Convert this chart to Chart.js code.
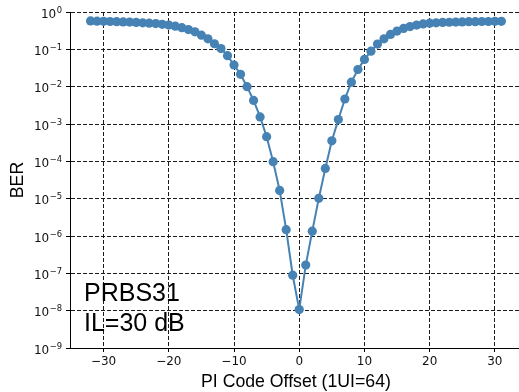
<!DOCTYPE html>
<html>
<head>
<meta charset="utf-8">
<script src="https://cdn.jsdelivr.net/npm/chart.js@4/dist/chart.umd.min.js"></script>
<style>
  html, body { margin: 0; padding: 0; background: #fff; }
  canvas { display: block; }
</style>
</head>
<body>
<canvas id="ber" width="519" height="392"></canvas>
<script>
// PI code offsets swept across one UI (1UI = 64 codes)
const piOffsets = [
  -32, -31, -30, -29, -28, -27, -26, -25, -24, -23, -22, -21, -20, -19, -18, -17,
  -16, -15, -14, -13, -12, -11, -10, -9, -8, -7, -6, -5, -4, -3, -2, -1,
  0, 1, 2, 3, 4, 5, 6, 7, 8, 9, 10, 11, 12, 13, 14, 15,
  16, 17, 18, 19, 20, 21, 22, 23, 24, 25, 26, 27, 28, 29, 30, 31
];

// Measured bit error rate at each offset (PRBS31, IL = 30 dB)
const berValues = [
  0.575, 0.569, 0.562, 0.556, 0.550, 0.543, 0.537, 0.525, 0.513, 0.501, 0.490, 0.468, 0.447, 0.417, 0.380, 0.339,
  0.295, 0.240, 0.191, 0.141, 0.105, 0.0676, 0.0380, 0.0214, 0.0100, 4.27e-3, 1.55e-3, 4.57e-4, 9.77e-5, 1.66e-5, 1.48e-6, 8.9e-8,
  1.07e-8, 1.66e-7, 1.35e-6, 1.02e-5, 6.46e-5, 3.55e-4, 1.32e-3, 4.68e-3, 0.0132, 0.0288, 0.0537, 0.0891, 0.138, 0.191, 0.251, 0.309,
  0.363, 0.407, 0.447, 0.479, 0.501, 0.513, 0.525, 0.531, 0.537, 0.543, 0.550, 0.550, 0.556, 0.556, 0.562, 0.562
];

const xTicks = [-30, -20, -10, 0, 10, 20, 30];
const yDecades = [-9, -8, -7, -6, -5, -4, -3, -2, -1, 0];

const xTitle = 'PI Code Offset (1UI=64)';
const yTitle = 'BER';
const noteLines = ['PRBS31', 'IL=30 dB'];

const lineColor = '#4682b4';
const tickFont = { family: 'DejaVu Sans', size: 12 };
const labelFamily = '"Liberation Sans", Arial, sans-serif';

// let the plot area run to the right edge of the canvas (open right side)
const fullWidthPlugin = {
  id: 'fullWidth',
  afterLayout(chart) {
    const xs = chart.scales.x;
    const area = chart.chartArea;
    area.right = chart.width;
    area.width = area.right - area.left;
    xs.right = chart.width;
    xs.width = xs.right - xs.left;
    xs.configure();
  }
};

// decade labels on the log axis, written as 10 with a raised exponent
const decadeLabelPlugin = {
  id: 'decadeLabels',
  afterDraw(chart) {
    const { ctx } = chart;
    const ys = chart.scales.y;
    const rightEdge = ys.right - 4 - 4;
    ctx.save();
    ctx.fillStyle = '#111';
    ctx.textBaseline = 'alphabetic';
    ctx.textAlign = 'left';
    yDecades.forEach(e => {
      const py = ys.getPixelForValue(Math.pow(10, e));
      const base = '10';
      const exp = e < 0 ? '\u2212' + Math.abs(e) : String(e);
      ctx.font = '12px "DejaVu Sans"';
      const wBase = ctx.measureText(base).width;
      ctx.font = '8.4px "DejaVu Sans"';
      const wExp = ctx.measureText(exp).width;
      const x0 = rightEdge - wExp - wBase - 0.5;
      ctx.font = '12px "DejaVu Sans"';
      ctx.fillText(base, x0, py + 5.5);
      ctx.font = '8.4px "DejaVu Sans"';
      ctx.fillText(exp, x0 + wBase + 0.5, py + 0.5);
    });
    ctx.restore();
  }
};

// axis titles and the test-condition note
const textPlugin = {
  id: 'berText',
  afterDraw(chart) {
    const { ctx, chartArea } = chart;
    const xs = chart.scales.x;
    ctx.save();
    ctx.fillStyle = '#000';
    ctx.font = '17.7px ' + labelFamily;
    ctx.textAlign = 'center';
    ctx.textBaseline = 'alphabetic';
    ctx.fillText(xTitle, (xs.getPixelForValue(-35.15) + xs.getPixelForValue(34.15)) / 2, 387);

    ctx.translate(23, (chartArea.top + chartArea.bottom) / 2);
    ctx.rotate(-Math.PI / 2);
    ctx.fillText(yTitle, 0, 0);
    ctx.restore();

    ctx.save();
    ctx.fillStyle = '#000';
    ctx.font = '25px ' + labelFamily;
    ctx.textAlign = 'left';
    ctx.textBaseline = 'alphabetic';
    ctx.fillText(noteLines[0], 84, 301);
    ctx.fillText(noteLines[1], 84, 331);
    ctx.restore();
  }
};

new Chart(document.getElementById('ber'), {
  type: 'line',
  data: {
    datasets: [{
      data: piOffsets.map((x, i) => ({ x, y: berValues[i] })),
      borderColor: lineColor,
      backgroundColor: lineColor,
      borderWidth: 2,
      pointRadius: 4.6,
      pointBorderWidth: 0,
      pointBackgroundColor: lineColor,
      tension: 0,
      fill: false
    }]
  },
  options: {
    responsive: false,
    devicePixelRatio: 1,
    animation: false,
    events: [],
    layout: { padding: { top: 12, right: 0, left: 0, bottom: 0 } },
    plugins: { legend: { display: false }, tooltip: { enabled: false } },
    scales: {
      x: {
        type: 'linear',
        min: -35.15,
        max: 33.7,
        afterBuildTicks: s => { s.ticks = xTicks.map(v => ({ value: v })); },
        afterFit: s => { s.height = 44; s.paddingLeft = 0; s.paddingRight = 0; },
        ticks: {
          font: tickFont,
          color: '#111',
          padding: 3,
          maxRotation: 0,
          autoSkip: false,
          callback: v => (v < 0 ? '\u2212' + Math.abs(v) : String(v))
        },
        grid: { color: '#1a1a1a', lineWidth: 1, tickLength: 4, tickColor: '#000', tickBorderDash: [] },
        border: { display: true, color: '#000', width: 1, dash: [4, 2] }
      },
      y: {
        type: 'logarithmic',
        min: 1e-9,
        max: 1,
        afterBuildTicks: s => { s.ticks = yDecades.map(e => ({ value: Math.pow(10, e) })); },
        afterFit: s => { s.width = 70; s.paddingTop = 0; s.paddingBottom = 0; },
        ticks: { display: false, autoSkip: false },
        grid: { color: '#1a1a1a', lineWidth: 1, tickLength: 4, tickColor: '#000', tickBorderDash: [] },
        border: { display: true, color: '#000', width: 1, dash: [4, 2] }
      }
    }
  },
  plugins: [fullWidthPlugin, decadeLabelPlugin, textPlugin]
});
</script>
</body>
</html>
